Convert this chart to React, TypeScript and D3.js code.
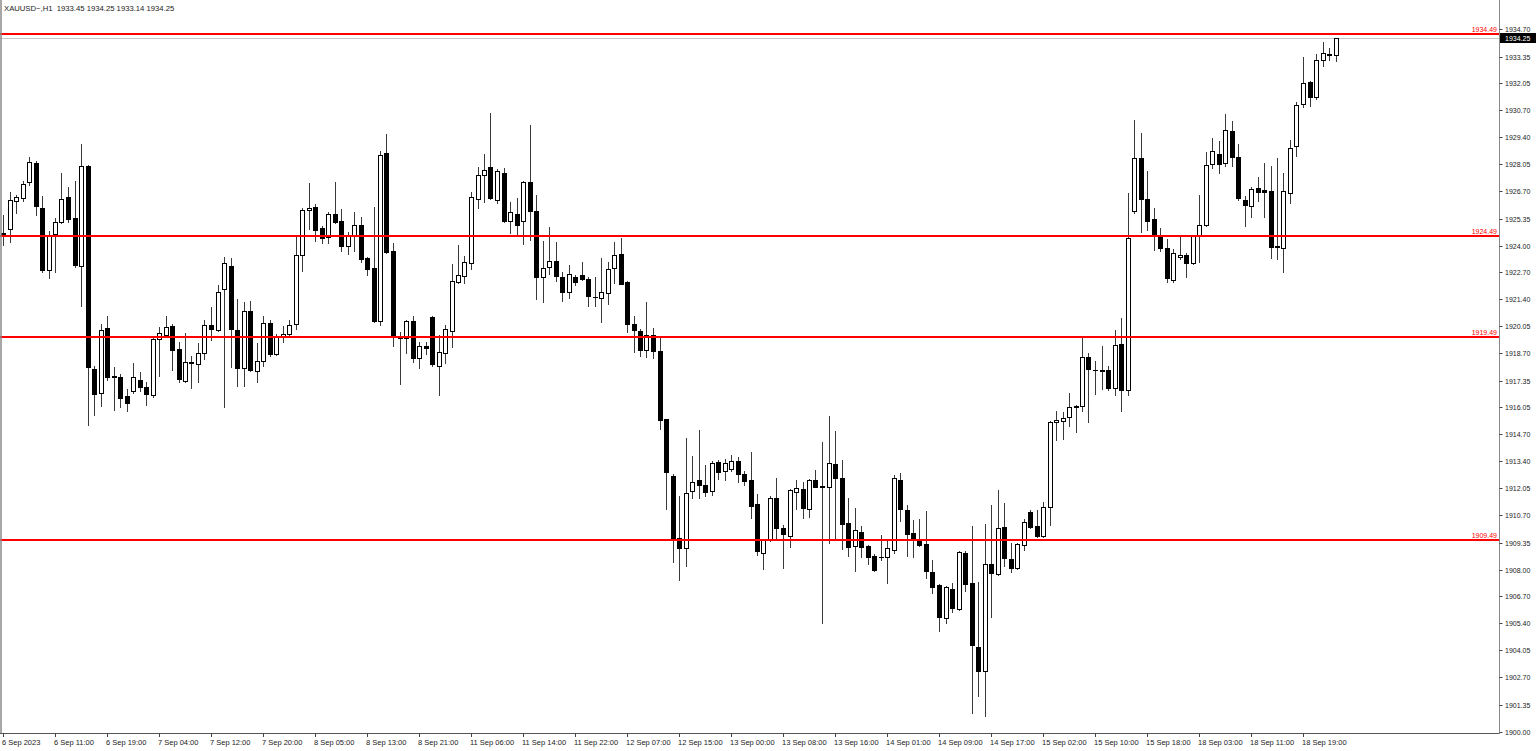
import React from "react";
import * as d3 from "d3";

const symbolTitle = "XAUUSD~,H1  1933.45 1934.25 1933.14 1934.25";

const opens = [
1924.64,1924.84,1926.22,1926.37,1927.17,1928.11,1925.88,1922.81,1924.59,1925.19,
1926.42,1925.38,1923.01,1927.96,1917.91,1916.72,1919.94,1917.57,1917.52,1916.58,
1916.82,1917.37,1917.02,1916.63,1919.40,1919.59,1920.04,1918.90,1917.32,1918.21,
1918.16,1918.70,1920.09,1919.84,1921.87,1923.01,1919.84,1917.96,1920.78,1917.81,
1918.31,1920.19,1918.65,1919.55,1919.64,1920.14,1923.55,1925.78,1925.93,1924.89,
1924.44,1925.58,1925.24,1924.00,1924.49,1925.04,1923.41,1922.91,1920.29,1928.60,
1923.75,1919.45,1919.45,1920.29,1918.46,1919.05,1920.48,1918.06,1918.70,1919.79,
1922.22,1922.51,1923.16,1926.32,1927.51,1927.91,1926.27,1927.61,1925.24,1925.58,
1925.24,1927.17,1925.73,1922.46,1922.96,1923.26,1922.46,1921.72,1922.46,1922.56,
1922.37,1921.50,1921.43,1921.67,1922.91,1923.60,1922.22,1920.14,1919.79,1918.85,
1919.59,1918.80,1915.44,1912.62,1909.60,1909.10,1911.88,1912.42,1912.22,1911.88,
1913.31,1912.87,1913.01,1913.36,1912.72,1912.42,1911.28,1908.86,1909.50,1911.53,
1910.09,1909.70,1911.83,1912.02,1910.99,1912.42,1912.17,1912.12,1913.21,1912.52,
1910.34,1909.20,1909.90,1909.20,1908.71,1908.64,1908.66,1909.01,1912.42,1910.94,
1909.85,1909.55,1909.30,1907.92,1907.27,1905.64,1907.08,1906.09,1908.86,1907.37,
1904.21,1903.02,1908.31,1907.82,1910.14,1908.56,1908.12,1909.25,1910.84,1910.19,
1909.70,1911.13,1915.29,1915.34,1915.54,1916.06,1916.08,1918.51,1917.89,1917.86,
1917.86,1916.97,1919.15,1916.87,1925.73,1928.35,1926.32,1925.33,1924.54,1923.90,
1922.32,1923.46,1923.55,1923.16,1924.49,1925.04,1928.06,1928.55,1928.11,1929.69,
1928.40,1926.27,1925.98,1926.87,1926.77,1926.72,1924.00,1923.90,1926.62,1928.95,
1931.02,1932.11,1931.37,1933.20,1933.50,1933.45
];

const highs = [
1925.53,1926.67,1926.52,1927.21,1928.40,1928.20,1926.47,1924.74,1925.38,1927.61,
1926.92,1927.21,1929.05,1928.00,1918.06,1920.14,1920.53,1918.01,1917.66,1916.92,
1918.21,1917.76,1917.27,1919.55,1919.99,1920.53,1920.14,1919.25,1919.69,1918.56,
1919.20,1920.34,1920.98,1922.07,1923.46,1923.41,1921.38,1921.23,1921.28,1919.20,
1920.53,1920.34,1919.64,1920.04,1920.34,1924.44,1925.88,1927.12,1926.08,1924.99,
1925.68,1927.17,1925.83,1924.69,1925.68,1925.43,1923.46,1925.93,1928.70,1929.54,
1924.15,1919.74,1920.34,1920.53,1919.25,1919.25,1920.53,1919.59,1920.09,1923.11,
1924.05,1923.50,1926.67,1927.91,1928.55,1930.58,1927.81,1927.86,1926.18,1926.37,
1927.21,1929.99,1926.52,1924.25,1924.94,1924.20,1922.71,1923.06,1922.56,1923.21,
1922.46,1922.46,1923.41,1923.21,1924.20,1924.39,1922.25,1920.53,1919.89,1921.23,
1919.94,1919.50,1915.45,1912.72,1911.63,1914.50,1913.61,1914.89,1913.16,1913.36,
1913.41,1913.46,1913.66,1913.56,1912.87,1913.81,1911.73,1909.52,1911.63,1912.52,
1910.24,1912.02,1912.42,1912.32,1912.47,1912.92,1914.30,1915.59,1914.84,1913.41,
1911.53,1911.04,1910.19,1909.25,1908.81,1909.75,1909.45,1912.67,1912.77,1911.23,
1910.49,1910.54,1910.89,1908.51,1907.32,1907.20,1907.37,1908.96,1908.96,1910.19,
1907.42,1910.29,1911.23,1911.93,1911.33,1909.35,1909.35,1910.54,1910.94,1910.94,
1911.38,1915.34,1915.83,1915.78,1916.72,1916.13,1919.45,1918.70,1918.31,1919.05,
1918.06,1919.84,1920.44,1926.62,1930.23,1929.59,1927.71,1925.88,1924.89,1924.34,
1923.85,1924.44,1923.65,1924.54,1926.52,1928.65,1929.34,1929.19,1930.53,1930.18,
1929.05,1926.47,1926.92,1927.41,1928.11,1927.96,1928.35,1927.61,1929.24,1931.12,
1933.35,1932.16,1933.50,1934.09,1933.80,1934.25
];

const lows = [
1924.05,1924.20,1925.63,1926.22,1927.02,1925.53,1922.71,1922.42,1922.71,1925.14,
1925.19,1922.96,1921.03,1915.14,1915.64,1916.08,1917.37,1915.88,1916.03,1915.83,
1916.72,1916.82,1916.13,1916.53,1917.57,1919.50,1917.86,1917.27,1917.27,1916.97,
1917.27,1918.41,1919.35,1919.80,1916.03,1918.01,1917.07,1917.07,1917.81,1917.27,
1918.06,1918.56,1918.61,1919.25,1919.59,1919.89,1922.76,1924.84,1924.25,1924.15,
1924.15,1925.15,1923.75,1923.60,1923.75,1923.21,1922.56,1920.24,1920.09,1923.65,
1919.05,1917.17,1918.70,1918.26,1917.96,1918.65,1918.06,1916.63,1918.21,1919.00,
1922.17,1922.17,1922.86,1925.88,1926.18,1926.32,1926.13,1925.20,1924.64,1924.59,
1924.10,1924.30,1921.38,1921.23,1922.61,1922.27,1921.28,1921.43,1922.07,1922.32,
1921.03,1921.03,1920.24,1921.13,1922.17,1922.10,1919.74,1918.75,1918.56,1918.51,
1918.46,1914.94,1910.99,1908.41,1907.52,1908.21,1911.53,1911.53,1911.63,1911.68,
1912.47,1912.42,1912.87,1912.32,1912.22,1910.59,1908.76,1908.07,1909.45,1909.50,
1908.12,1909.15,1910.99,1910.59,1910.64,1912.10,1905.39,1909.35,1909.60,1909.06,
1908.71,1907.97,1908.66,1908.31,1907.97,1908.51,1907.37,1908.86,1910.44,1908.71,
1908.66,1909.20,1907.62,1906.88,1905.00,1905.39,1905.94,1906.04,1906.98,1900.94,
1901.78,1900.79,1905.69,1907.77,1908.21,1907.92,1908.07,1909.01,1910.09,1909.65,
1909.65,1910.24,1914.40,1914.45,1915.09,1914.79,1915.83,1915.29,1916.67,1916.92,
1916.87,1916.63,1915.83,1916.63,1925.63,1924.69,1924.79,1923.80,1923.75,1922.22,
1922.22,1923.36,1922.46,1923.11,1923.21,1924.99,1927.86,1927.61,1927.96,1927.96,
1926.27,1924.99,1925.43,1926.22,1925.43,1923.41,1923.36,1922.71,1926.13,1928.45,
1930.88,1930.93,1931.27,1932.90,1933.20,1933.14
];

const closes = [
1924.54,1926.27,1926.42,1927.07,1928.15,1925.98,1922.81,1924.54,1925.19,1926.32,
1925.33,1923.06,1927.96,1918.01,1916.67,1919.84,1917.52,1917.52,1916.48,1916.23,
1917.52,1917.02,1916.67,1919.40,1919.69,1919.99,1918.85,1917.42,1918.26,1918.26,
1918.70,1920.09,1919.89,1921.72,1923.16,1919.89,1917.96,1920.78,1917.86,1918.31,
1920.19,1918.65,1919.55,1919.64,1920.09,1923.55,1925.78,1925.88,1924.79,1924.39,
1925.58,1925.19,1924.00,1924.54,1925.04,1923.36,1922.86,1920.29,1928.50,1923.70,
1919.50,1919.50,1920.29,1918.46,1919.05,1918.95,1918.16,1918.75,1919.89,1922.27,
1922.56,1923.21,1926.42,1927.51,1927.76,1926.37,1927.71,1925.24,1925.68,1925.04,
1927.17,1925.73,1922.46,1922.91,1923.26,1922.51,1921.72,1922.61,1922.22,1922.37,
1921.52,1921.47,1921.72,1922.86,1923.55,1922.12,1920.14,1919.84,1918.85,1919.59,
1918.80,1915.39,1912.82,1909.60,1909.10,1911.78,1912.32,1912.22,1911.83,1913.26,
1912.82,1913.26,1913.36,1912.72,1912.37,1911.18,1908.96,1909.50,1911.53,1910.09,
1909.80,1911.93,1912.07,1911.04,1912.42,1912.12,1912.12,1913.26,1912.52,1910.29,
1909.15,1909.95,1909.15,1908.66,1908.02,1908.66,1909.10,1912.52,1910.99,1909.80,
1909.55,1909.25,1907.97,1907.18,1905.69,1907.18,1906.14,1908.91,1907.32,1904.31,
1903.02,1908.31,1907.87,1910.09,1908.61,1908.12,1909.30,1910.39,1910.14,1909.70,
1911.13,1915.29,1915.39,1915.49,1916.03,1916.08,1918.51,1917.91,1917.86,1917.84,
1916.97,1919.10,1916.87,1924.39,1928.35,1926.32,1925.24,1924.54,1923.90,1922.42,
1923.65,1923.55,1923.16,1924.49,1925.04,1928.01,1928.70,1928.06,1929.74,1928.40,
1926.37,1926.03,1926.82,1926.67,1926.67,1923.95,1923.97,1926.72,1928.85,1930.97,
1932.06,1931.37,1933.20,1933.55,1933.45,1934.25
];

const timeLabels = [
"6 Sep 2023","6 Sep 11:00","6 Sep 19:00","7 Sep 04:00","7 Sep 12:00","7 Sep 20:00",
"8 Sep 05:00","8 Sep 13:00","8 Sep 21:00","11 Sep 06:00","11 Sep 14:00","11 Sep 22:00",
"12 Sep 07:00","12 Sep 15:00","13 Sep 00:00","13 Sep 08:00","13 Sep 16:00","14 Sep 01:00",
"14 Sep 09:00","14 Sep 17:00","15 Sep 02:00","15 Sep 10:00","15 Sep 18:00","18 Sep 03:00",
"18 Sep 11:00","18 Sep 19:00"
];
const barsPerLabel = 8;

const priceTicks = [
"1934.70","1933.35","1932.05","1930.70","1929.40","1928.05","1926.70","1925.35","1924.00",
"1922.70","1921.40","1920.05","1918.70","1917.35","1916.05","1914.70","1913.40","1912.05",
"1910.70","1909.35","1908.00","1906.70","1905.40","1904.05","1902.70","1901.35","1900.00"
];

const levels = [1934.49, 1924.49, 1919.49, 1909.49];
const bidPrice = 1934.25;

const W = 1536;
const H = 751;
const plotRight = 1499.5;
const plotBottom = 733;
const FONT = "'Liberation Sans', Arial, sans-serif";

export default function App() {
  const n = opens.length;
  const x = d3.scaleLinear().domain([0, n - 1]).range([3, 3 + 6.5 * (n - 1)]);
  const y = d3.scaleLinear().domain([1899.95, 1936.22]).range([plotBottom, -1.5]);

  const candles = d3.range(n).map((i) => {
    const o = opens[i], h = highs[i], l = lows[i], c = closes[i];
    const cx = Math.round(x(i));
    const up = c >= o;
    const top = Math.round(y(Math.max(o, c)));
    const bot = Math.round(y(Math.min(o, c)));
    const yh = Math.round(y(h));
    const yl = Math.round(y(l));
    return (
      <g key={i}>
        <line x1={cx + 0.5} x2={cx + 0.5} y1={yh} y2={yl + 1} stroke="#3a3a3a" strokeWidth={1} />
        {bot - top < 1 ? (
          <line x1={cx - 2} x2={cx + 3} y1={top + 0.5} y2={top + 0.5} stroke="#000" strokeWidth={1} />
        ) : (
          <rect
            x={cx - 1.5}
            y={top + 0.5}
            width={4}
            height={bot - top}
            fill={up ? "#fff" : "#000"}
            stroke="#000"
            strokeWidth={1}
          />
        )}
      </g>
    );
  });

  const bidY = Math.round(y(bidPrice));

  return (
    <svg
      width={W}
      height={H}
      style={{ position: "absolute", left: 0, top: 0, background: "#fff" }}
      fontFamily={FONT}
    >
      <rect x={0} y={0} width={W} height={H} fill="#fff" />
      {/* bid line */}
      <line x1={0} x2={plotRight} y1={bidY + 0.5} y2={bidY + 0.5} stroke="#c8c8c8" strokeWidth={1} />
      {candles}
      {/* horizontal levels */}
      {levels.map((lv) => {
        const ly = Math.round(y(lv));
        return (
          <g key={lv}>
            <line x1={0} x2={plotRight} y1={ly} y2={ly} stroke="#ff0000" strokeWidth={2} />
            <text x={1497} y={ly - 2.5} fontSize={7} fill="#ff0000" textAnchor="end">
              {lv.toFixed(2)}
            </text>
          </g>
        );
      })}
      {/* frame */}
      <line x1={1} x2={1} y1={0} y2={plotBottom} stroke="#8a8a8a" strokeWidth={1.5} />
      <line x1={plotRight} x2={plotRight} y1={0} y2={plotBottom + 0.5} stroke="#8a8a8a" strokeWidth={1} />
      <line x1={0} x2={plotRight} y1={plotBottom + 0.5} y2={plotBottom + 0.5} stroke="#555" strokeWidth={1} />
      {/* price axis */}
      {priceTicks.map((t) => {
        const ty = Math.round(y(+t)) + 0.5;
        return (
          <g key={t}>
            <line x1={plotRight} x2={plotRight + 3} y1={ty} y2={ty} stroke="#444" strokeWidth={1} />
            <text x={1505} y={ty + 2.5} fontSize={7} fill="#222">
              {t}
            </text>
          </g>
        );
      })}
      {/* bid tag */}
      <rect x={1500} y={bidY - 5} width={36} height={10} fill="#000" />
      <text x={1505} y={bidY + 2.5} fontSize={7} fill="#fff">
        {bidPrice.toFixed(2)}
      </text>
      {/* time axis */}
      {timeLabels.map((t, k) => {
        const bx = Math.round(x(k * barsPerLabel));
        return (
          <g key={t}>
            <line x1={bx + 0.5} x2={bx + 0.5} y1={plotBottom} y2={plotBottom + 4} stroke="#444" strokeWidth={1} />
            <text x={bx - 1} y={745} fontSize={7.5} fill="#222">
              {t}
            </text>
          </g>
        );
      })}
      {/* header */}
      <text x={4} y={11} fontSize={7.7} fill="#222" xmlSpace="preserve">
        {symbolTitle}
      </text>
    </svg>
  );
}
